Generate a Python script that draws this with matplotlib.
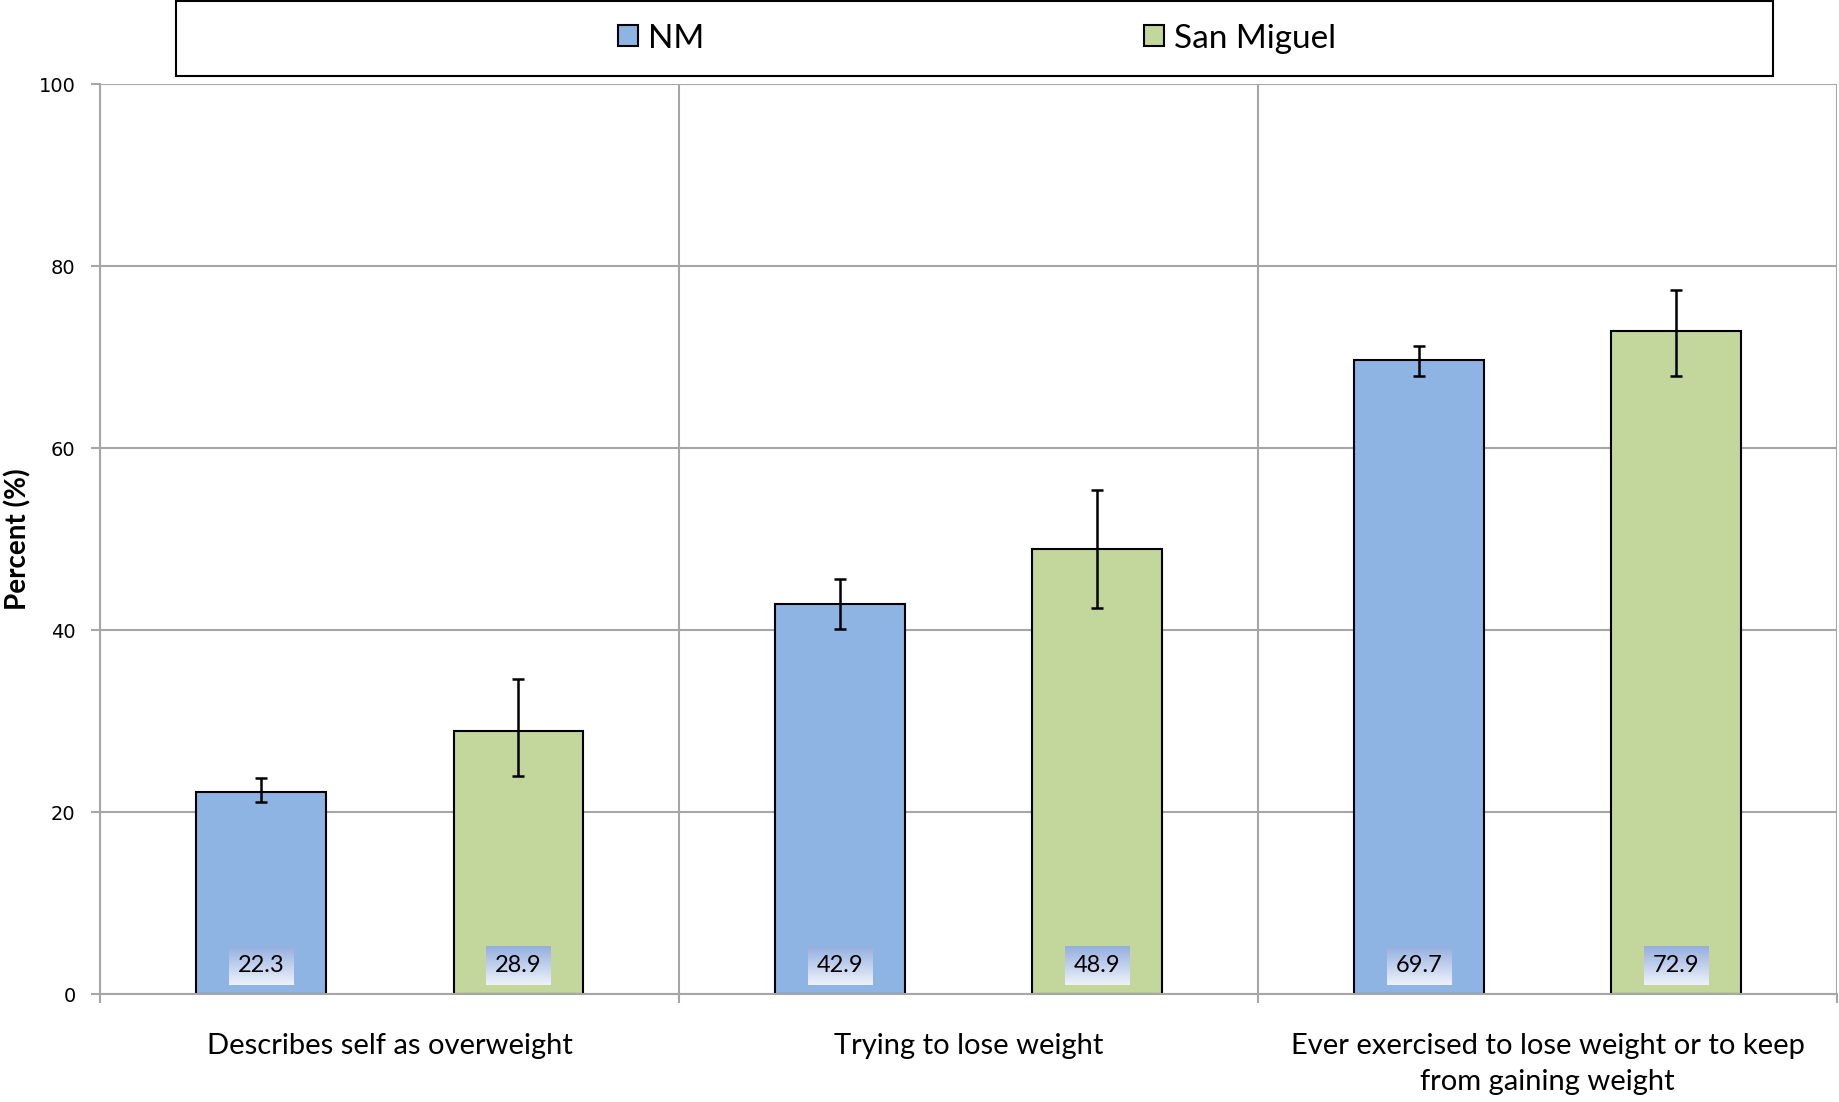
import matplotlib
matplotlib.use("Agg")
import matplotlib.pyplot as plt
import numpy as np
from matplotlib.patches import Rectangle
from matplotlib.colors import LinearSegmentedColormap

# data
categories = [
    "Describes self as overweight",
    "Trying to lose weight",
    "Ever exercised to lose weight or to keep\nfrom gaining weight",
]
series_names = ["NM", "San Miguel"]
nm_values = [22.3, 42.9, 69.7]
nm_lower = [21.1, 40.2, 68.0]
nm_upper = [23.8, 45.7, 71.3]
sm_values = [28.9, 48.9, 72.9]
sm_lower = [24.0, 42.5, 68.0]
sm_upper = [34.7, 55.4, 77.4]
y_ticks = [0, 20, 40, 60, 80, 100]

NM_COLOR = "#8eb4e3"
SM_COLOR = "#c3d69b"
GRID_COLOR = "#a6a6a6"

plt.rcParams["font.family"] = ["Lato", "DejaVu Sans"]

fig = plt.figure(figsize=(18.39, 11.02), dpi=100)
ax = fig.add_axes([0.0544, 0.0976, 0.9445, 0.8258])

x = np.arange(len(categories))
offset = 0.222
width = 0.223

series = [
    (nm_values, nm_lower, nm_upper, NM_COLOR, -offset),
    (sm_values, sm_lower, sm_upper, SM_COLOR, offset),
]

handles = []
value_texts = []
for (vals, lo, hi, color, off), name in zip(series, series_names):
    vals = np.array(vals)
    bars = ax.bar(x + off, vals, width, color=color, edgecolor="black",
                  linewidth=1.5, zorder=2, label=name)
    handles.append(bars)
    yerr = [vals - np.array(lo), np.array(hi) - vals]
    ax.errorbar(x + off, vals, yerr=yerr, fmt="none", ecolor="black",
                elinewidth=1.8, capsize=4.5, capthick=1.8, zorder=3)
    for xi, v in zip(x + off, vals):
        t = ax.text(xi, 3.2, f"{v:.1f}", ha="center", va="center",
                    fontsize=17, zorder=5,
                    bbox=dict(boxstyle="square,pad=0.38", facecolor="none",
                              edgecolor="none"))
        value_texts.append(t)

ax.set_xlim(-0.5, len(categories) - 0.5)
ax.set_ylim(0, 100)

# axes styling
ax.set_yticks(y_ticks)
ax.set_yticklabels([str(v) for v in y_ticks], family="DejaVu Sans", fontsize=14)
ax.tick_params(axis="y", length=6.5, width=1.5, color=GRID_COLOR, pad=11)
ax.set_xticks(x)
ax.set_xticklabels(categories, fontsize=21, linespacing=1.45)
ax.set_xticks(np.arange(-0.5, len(categories)), minor=True)
ax.tick_params(axis="x", which="major", length=0, pad=28)
ax.tick_params(axis="x", which="minor", length=6.5, width=1.5, color=GRID_COLOR)
ax.grid(axis="y", which="major", color=GRID_COLOR, linewidth=1.5)
ax.grid(axis="x", which="minor", color=GRID_COLOR, linewidth=1.5)
ax.set_axisbelow(True)
for side in ["top", "right"]:
    ax.spines[side].set_visible(False)
for side in ["left", "bottom"]:
    ax.spines[side].set_color(GRID_COLOR)
    ax.spines[side].set_linewidth(1.5)

ax.set_ylabel("Percent (%)", fontsize=20, fontweight="bold")
ax.yaxis.set_label_coords(-0.0395, 0.5)

# gradient boxes behind the value labels
fig.canvas.draw()
renderer = fig.canvas.get_renderer()
grad_cmap = LinearSegmentedColormap.from_list("lbl", ["#eef2fa", "#95afdf"])
grad = np.linspace(1, 0, 64)[:, None]
inv = ax.transData.inverted()
for t in value_texts:
    bb = t.get_bbox_patch().get_window_extent(renderer)
    (x0, y0), (x1, y1) = inv.transform([(bb.x0, bb.y0), (bb.x1, bb.y1)])
    ax.imshow(grad, extent=[x0, x1, y0, y1], cmap=grad_cmap, aspect="auto",
              origin="upper", zorder=4)
ax.set_xlim(-0.5, len(categories) - 0.5)
ax.set_ylim(0, 100)

# legend box across the top
fig.patches.append(Rectangle((176 / 1839, 1 - 76 / 1102), 1597 / 1839, 75 / 1102,
                             transform=fig.transFigure, facecolor="white",
                             edgecolor="black", linewidth=1.5, zorder=0))
fig.legend(handles=handles, labels=series_names, loc="center",
           bbox_to_anchor=(977 / 1839, 1 - 38.5 / 1102), ncol=2,
           frameon=False, fontsize=24, handlelength=0.6, handleheight=0.6,
           handletextpad=0.3, columnspacing=13.2)

fig.savefig("out.png", dpi=100)
